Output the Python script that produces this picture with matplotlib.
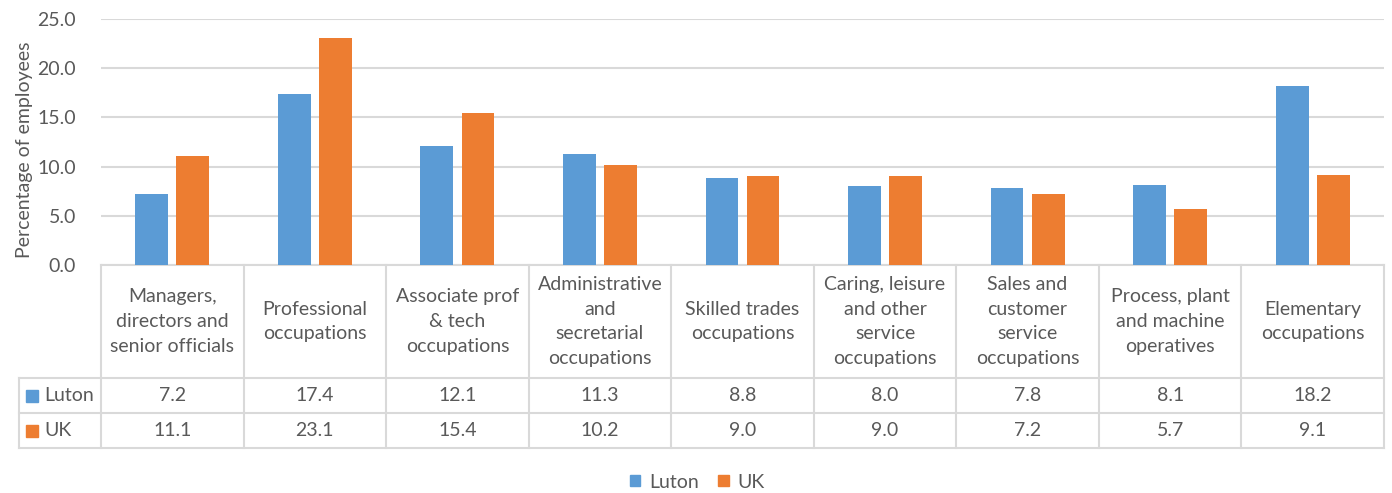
import matplotlib.pyplot as plt
import numpy as np

plt.rcParams['font.family'] = ['Lato', 'DejaVu Sans']

categories = [
    "Managers,\ndirectors and\nsenior officials",
    "Professional\noccupations",
    "Associate prof\n& tech\noccupations",
    "Administrative\nand\nsecretarial\noccupations",
    "Skilled trades\noccupations",
    "Caring, leisure\nand other\nservice\noccupations",
    "Sales and\ncustomer\nservice\noccupations",
    "Process, plant\nand machine\noperatives",
    "Elementary\noccupations",
]
luton = [7.2, 17.4, 12.1, 11.3, 8.8, 8.0, 7.8, 8.1, 18.2]
uk = [11.1, 23.1, 15.4, 10.2, 9.0, 9.0, 7.2, 5.7, 9.1]
series_names = ["Luton", "UK"]
colors = ["#5B9BD5", "#ED7D31"]

text_col = "#595959"
grid_col = "#D9D9D9"
fs = 14

fig = plt.figure(figsize=(13.92, 4.93), dpi=100)
ax = fig.add_axes([101 / 1392, 1 - 265 / 493, 1283 / 1392, 246 / 493])

x = np.arange(len(categories))
w = 0.23
off = 0.144
for vals, name, c, o in zip([luton, uk], series_names, colors, [-off, off]):
    ax.bar(x + o, vals, width=w, color=c, label=name, zorder=3)

ax.set_xlim(-0.5, len(categories) - 0.5)
ax.set_ylim(0, 25)
ax.set_yticks(np.arange(0, 26, 5))
ax.set_yticklabels([f"{v:.1f}" for v in np.arange(0, 26, 5)])
ax.tick_params(axis='y', length=0, labelsize=fs, colors=text_col, pad=18)
ax.set_xticks([])
for s in ax.spines.values():
    s.set_visible(False)
ax.grid(axis='y', color=grid_col, linewidth=1.5, zorder=0)
ax.set_ylabel("Percentage of employees", fontsize=fs, color=text_col)
ax.yaxis.set_label_coords(-68 / 1283, 0.5 - 8 / 246)

# data table under the plot
tr = ax.get_xaxis_transform()
lw = 1.5
y_head = -113 / 246
y_r1 = -148 / 246
y_r2 = -183 / 246
x_leg = -0.5 - 82 / 142.5
n = len(categories)

ax.plot([-0.5, n - 0.5], [0, 0], color=grid_col, lw=lw, transform=tr, clip_on=False)
for yy in (y_head, y_r1, y_r2):
    ax.plot([x_leg, n - 0.5], [yy, yy], color=grid_col, lw=lw, transform=tr, clip_on=False)
ax.plot([x_leg, x_leg], [y_head, y_r2], color=grid_col, lw=lw, transform=tr, clip_on=False)
for i in range(n + 1):
    ax.plot([i - 0.5, i - 0.5], [0, y_r2], color=grid_col, lw=lw, transform=tr, clip_on=False)

for i, cat in enumerate(categories):
    ax.text(i, y_head / 2, cat, transform=tr, ha='center', va='center',
            fontsize=fs, color=text_col, linespacing=1.55)
    ax.text(i, (y_head + y_r1) / 2, f"{luton[i]:.1f}", transform=tr, ha='center',
            va='center', fontsize=fs, color=text_col)
    ax.text(i, (y_r1 + y_r2) / 2, f"{uk[i]:.1f}", transform=tr, ha='center',
            va='center', fontsize=fs, color=text_col)

for name, c, (ya, yb) in zip(series_names, colors, [(y_head, y_r1), (y_r1, y_r2)]):
    yc = (ya + yb) / 2
    ax.plot([x_leg + 13 / 142.5], [yc], marker='s', markersize=9, color=c,
            transform=tr, clip_on=False, linestyle='none')
    ax.text(x_leg + 25 / 142.5, yc, name, transform=tr, ha='left', va='center',
            fontsize=fs, color=text_col)

handles = [plt.Rectangle((0, 0), 1, 1, color=c) for c in colors]
fig.legend(handles, series_names, loc='center', bbox_to_anchor=(0.501, 11 / 493),
           ncol=2, frameon=False, fontsize=fs, labelcolor=text_col,
           handlelength=0.55, handleheight=0.55, handletextpad=0.45, columnspacing=1.0)

fig.savefig("out.png", dpi=100)
